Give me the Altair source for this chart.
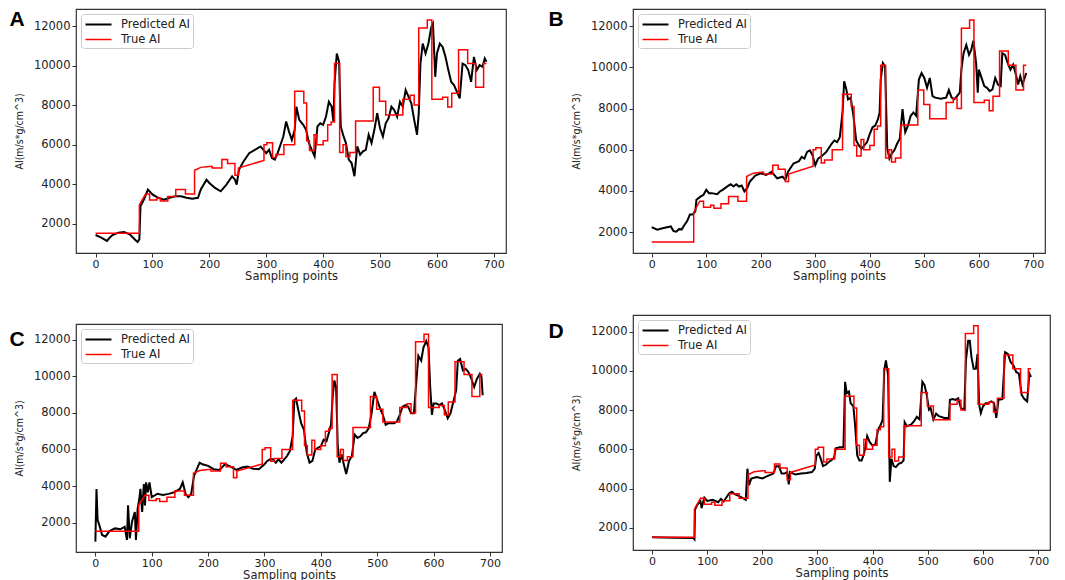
import altair as alt
import pandas as pd

# ---------------- True AI (step curve, same in every panel) ----------------
true_x = [0, 77, 77, 82, 88, 95, 95, 108, 108, 114, 114, 127, 127, 141, 141, 158, 158, 174,
          174, 185, 200, 205, 205, 222, 222, 232, 232, 245, 245, 251, 251, 296, 296, 301, 301,
          311, 311, 317, 317, 331, 331, 350, 350, 366, 366, 371, 371, 376, 376, 384, 384, 389,
          389, 400, 400, 408, 408, 414, 414, 420, 420, 429, 429, 435, 435, 440, 440, 447, 447,
          457, 457, 488, 488, 499, 499, 510, 510, 540, 540, 553, 553, 560, 560, 568, 568, 583,
          583, 591, 591, 610, 610, 619, 619, 626, 626, 638, 638, 654, 654, 668, 668, 682, 682, 687]
true_y = [1520, 1520, 2950, 3200, 3500, 3500, 3200, 3200, 3300, 3300, 3150, 3150, 3380, 3380,
          3730, 3730, 3500, 3500, 4700, 4850, 4900, 4900, 4820, 4820, 5250, 5250, 5050, 5050,
          4450, 4450, 4820, 5200, 6000, 6000, 6100, 6100, 5350, 5350, 5500, 5500, 6000, 6000,
          8700, 8700, 8100, 8100, 6200, 6200, 5700, 5700, 6500, 6500, 6000, 6000, 6200, 6200,
          7000, 7000, 7150, 7150, 10100, 10100, 5600, 5600, 6000, 6000, 5400, 5400, 5600, 5600,
          7200, 7200, 8900, 8900, 8200, 8200, 7500, 7500, 8300, 8300, 8500, 8500, 8000, 8000,
          11900, 11900, 12300, 12300, 8300, 8300, 8400, 8400, 7900, 7900, 8600, 8600, 10800,
          10800, 10100, 10100, 8900, 8900, 10100, 10100]

# ---------------- Predicted AI, panel A ----------------
pred_a_x = [0, 10, 20, 25, 30, 40, 50, 60, 70, 74, 77, 79, 85, 92, 100, 110, 120, 130, 140, 150,
            160, 170, 180, 185, 195, 200, 210, 220, 230, 240, 245, 248, 252, 260, 270, 280, 290,
            300, 305, 310, 315, 320, 330, 335, 340, 345, 350, 353, 358, 365, 370, 375, 380, 385,
            390, 395, 400, 405, 410, 415, 418, 420, 424, 428, 431, 435, 440, 445, 450, 455, 460,
            465, 470, 475, 480, 485, 490, 495, 500, 505, 510, 515, 520, 525, 530, 535, 540, 545,
            550, 555, 560, 565, 568, 571, 575, 580, 585, 590, 593, 597, 600, 605, 610, 615, 620,
            625, 630, 635, 640, 645, 650, 655, 660, 665, 670, 675, 680, 684, 687]
pred_a_y = [1430, 1300, 1130, 1300, 1430, 1550, 1580, 1460, 1180, 1080, 1210, 2890, 3220, 3730,
            3480, 3310, 3220, 3310, 3390, 3390, 3310, 3260, 3310, 3730, 4230, 4060, 3810, 3640,
            3980, 4400, 4230, 3980, 4730, 5150, 5570, 5740, 5910, 5570, 5740, 5320, 5240, 5570,
            6410, 7170, 6660, 6240, 6750, 7920, 7250, 7000, 6750, 6080, 5740, 5410, 6920, 7080,
            7000, 7420, 8170, 7920, 7170, 9100, 10610, 10190, 6920, 6500, 6080, 5240, 5070, 4400,
            5910, 5490, 5660, 5740, 6500, 6080, 6750, 7590, 6830, 6410, 7080, 7340, 7920, 7750,
            7420, 8170, 7920, 8760, 8430, 8090, 7250, 6500, 7590, 10100, 11110, 10610, 11110,
            11950, 12120, 9430, 10610, 11110, 10940, 10440, 9770, 9180, 9010, 8680, 8340, 10100,
            10020, 9770, 9180, 10440, 9770, 10020, 9940, 10360, 10190]

# ---------------- Predicted AI, panel B ----------------
pred_b_x = [0, 10, 20, 30, 35, 40, 45, 50, 55, 60, 65, 70, 75, 80, 82, 90, 95, 100, 105, 110,
            120, 125, 130, 140, 145, 150, 155, 160, 165, 170, 175, 180, 190, 200, 210, 220, 230,
            240, 245, 250, 260, 270, 275, 280, 285, 290, 295, 300, 305, 310, 320, 330, 335, 340,
            345, 350, 353, 357, 360, 365, 370, 375, 380, 385, 390, 395, 400, 405, 410, 415, 418,
            420, 424, 428, 432, 436, 440, 445, 450, 455, 460, 463, 465, 470, 475, 480, 485, 490,
            495, 500, 505, 510, 515, 520, 530, 540, 545, 550, 555, 560, 565, 568, 572, 577, 582,
            586, 590, 595, 598, 600, 605, 610, 615, 620, 625, 630, 635, 640, 643, 648, 653, 658,
            663, 668, 672, 676, 680, 684, 687]
pred_b_y = [2240, 2110, 2180, 2240, 2270, 2050, 2020, 2140, 2130, 2340, 2530, 2850, 2850, 3010,
            3570, 3730, 3810, 4050, 3890, 3890, 3840, 3970, 4050, 4240, 4320, 4210, 4320, 4210,
            4260, 3970, 4130, 4450, 4740, 4850, 4770, 4930, 4610, 4690, 4530, 4930, 5330, 5440,
            5650, 5570, 5890, 5970, 5730, 5250, 5570, 5650, 5890, 6290, 6450, 6370, 6610, 7810,
            9330, 8930, 8450, 8530, 7650, 6450, 6210, 6050, 6210, 6370, 6770, 7090, 7170, 7490,
            7810, 9410, 10210, 10050, 6050, 5570, 5810, 5970, 6290, 6530, 7970, 7250, 6850, 7170,
            7650, 7810, 7650, 9410, 9730, 9490, 9010, 9490, 8610, 8530, 8480, 8530, 8900, 8530,
            8450, 8610, 8770, 9890, 10690, 11090, 10610, 10850, 11300, 10210, 8770, 9890, 9490,
            9090, 9010, 8850, 8930, 9490, 9170, 9090, 10690, 10610, 10210, 9890, 10130, 9650,
            9170, 9570, 9170, 9490, 9730]

# ---------------- Predicted AI, panel C ----------------
pred_c_x = [0, 2, 4, 7, 12, 18, 25, 35, 45, 52, 56, 58, 61, 65, 70, 72, 75, 78, 80, 83, 86, 88,
            90, 93, 96, 100, 105, 110, 120, 130, 140, 150, 155, 160, 165, 170, 175, 180, 185, 190,
            200, 210, 220, 230, 240, 250, 260, 270, 280, 290, 300, 305, 310, 315, 320, 325, 330,
            335, 340, 345, 350, 353, 356, 360, 365, 370, 375, 380, 385, 390, 395, 400, 405, 410,
            415, 418, 421, 424, 427, 430, 433, 437, 440, 445, 450, 455, 460, 465, 470, 475, 480,
            485, 490, 495, 500, 505, 510, 515, 520, 530, 535, 540, 545, 550, 555, 560, 565, 570,
            573, 578, 582, 587, 591, 594, 597, 600, 605, 610, 615, 620, 625, 630, 635, 640, 643,
            647, 652, 657, 662, 667, 672, 677, 682, 685, 687]
pred_c_y = [955, 3840, 2130, 1860, 1320, 1230, 1530, 1680, 1640, 1770, 1050, 2940, 1140, 2040,
            2580, 1050, 2760, 3300, 3840, 2580, 4110, 2940, 4200, 3660, 4200, 3390, 3480, 3570,
            3510, 3570, 3660, 3840, 4200, 3570, 3390, 3570, 4560, 4920, 5280, 5190, 5100, 4920,
            4880, 5190, 5060, 4880, 5010, 5060, 4950, 4920, 5190, 5370, 5460, 5460, 5280, 5460,
            5280, 5460, 5640, 5910, 6720, 8700, 8790, 8160, 7440, 7080, 5820, 5280, 5370, 6000,
            6090, 6180, 6540, 6450, 6990, 7350, 8880, 9780, 9420, 6180, 5280, 5730, 5280, 4650,
            5370, 5640, 6810, 6630, 6720, 6900, 6940, 7170, 7980, 9150, 8700, 8250, 7890, 7350,
            7440, 7440, 7530, 7890, 8340, 8430, 8340, 7980, 7980, 9960, 11130, 10860, 11580, 11940,
            11580, 9420, 7890, 8520, 8520, 8430, 8520, 8160, 7710, 7980, 8610, 9240, 10860, 10950,
            10320, 10410, 10230, 9870, 9420, 9870, 10140, 9960, 8970]

# ---------------- Predicted AI, panel D ----------------
pred_d_x = [0, 40, 75, 77, 78, 82, 88, 90, 95, 100, 110, 120, 125, 130, 140, 145, 150, 160, 170,
            173, 176, 180, 190, 200, 210, 220, 225, 230, 235, 240, 245, 248, 250, 260, 270, 280,
            290, 295, 298, 302, 306, 310, 315, 320, 330, 333, 340, 347, 350, 353, 357, 360, 365,
            368, 372, 376, 380, 385, 390, 395, 400, 405, 410, 415, 418, 421, 424, 428, 431, 434,
            438, 442, 447, 452, 456, 458, 462, 470, 475, 480, 485, 490, 494, 498, 502, 505, 510,
            515, 520, 530, 538, 540, 545, 550, 555, 560, 566, 569, 573, 576, 579, 583, 587, 590,
            593, 596, 600, 605, 610, 615, 620, 624, 628, 635, 640, 645, 650, 655, 660, 665, 670,
            675, 680, 684, 687]
pred_d_y = [1510, 1490, 1480, 1410, 2920, 3170, 3340, 3000, 3540, 3370, 3420, 3300, 3470, 3340,
            3760, 3840, 3710, 3590, 3420, 5010, 4170, 4510, 4590, 4510, 4640, 4760, 5140, 5140,
            4760, 4760, 4840, 4210, 4840, 4710, 4760, 4790, 4840, 5010, 5680, 5810, 5510, 5140,
            5210, 5340, 5550, 6050, 6100, 6100, 9440, 8860, 8940, 8350, 8190, 7270, 5680, 5430,
            5430, 5850, 6680, 6350, 6180, 6260, 7020, 7270, 7520, 10030, 10530, 9780, 4340, 5510,
            5140, 5090, 5260, 5310, 5430, 7380, 7180, 7270, 7430, 7650, 7520, 9440, 9270, 8770,
            8020, 8100, 7520, 7820, 7690, 7600, 7600, 8520, 8560, 8520, 8600, 8100, 8020, 10530,
            11530, 11530, 10700, 10110, 10110, 10860, 8270, 7850, 8190, 8350, 8350, 8440, 8350,
            7600, 8520, 8560, 10950, 10860, 10450, 10280, 9940, 9860, 8770, 8560, 8440, 9860, 9690]

SERIES = ["Predicted AI", "True AI"]
COLORS = ["black", "red"]
WIDTHS = [2.0, 1.5]
X_TICKS = [0, 100, 200, 300, 400, 500, 600, 700]
Y_TICKS = [2000, 4000, 6000, 8000, 10000, 12000]


def panel(letter, px, py, w, h, ldx, ldy, lbase):
    rows = []
    for i, (x, y) in enumerate(zip(px, py)):
        rows.append({"x": x, "AI": y, "series": SERIES[0], "idx": i})
    for i, (x, y) in enumerate(zip(true_x, true_y)):
        rows.append({"x": x, "AI": y, "series": SERIES[1], "idx": i})
    df = pd.DataFrame(rows)
    ys = list(py) + list(true_y)
    xs = list(px) + list(true_x)
    ylo, yhi = min(ys), max(ys)
    xlo, xhi = min(xs), max(xs)
    ym = 0.05 * (yhi - ylo)
    xm = 0.05 * (xhi - xlo)
    lines = alt.Chart(df).mark_line(clip=True).encode(
        x=alt.X("x:Q", scale=alt.Scale(domain=[xlo - xm, xhi + xm], nice=False, zero=False),
                axis=alt.Axis(values=X_TICKS, title="Sampling points", format="d",
                              labelFontSize=11, titleFontSize=11.5,
                              labelPadding=1, titlePadding=1)),
        y=alt.Y("AI:Q", scale=alt.Scale(domain=[ylo - ym, yhi + ym], nice=False, zero=False),
                axis=alt.Axis(values=Y_TICKS, title="AI(m/s*g/cm^3)", format="d",
                              labelFontSize=11.5,
                              titleFont="DejaVu Sans Condensed", titleFontSize=10.5,
                              titlePadding=9, labelPadding=2)),
        color=alt.Color("series:N", scale=alt.Scale(domain=SERIES, range=COLORS),
                        legend=alt.Legend(title=None, orient="top-left", offset=5,
                                          padding=3, rowPadding=2,
                                          symbolType="M-2,0L2,0", symbolSize=169,
                                          symbolOffset=7, symbolStrokeWidth=1.6,
                                          labelFontSize=11.5, labelFont="DejaVu Sans",
                                          labelColor="#222", labelOffset=15,
                                          strokeColor="#cccccc", fillColor="white",
                                          cornerRadius=3)),
        strokeWidth=alt.StrokeWidth("series:N", scale=alt.Scale(domain=SERIES, range=WIDTHS),
                                    legend=None),
        order=alt.Order("idx:Q"),
    )
    txt = alt.Chart(pd.DataFrame({"t": [letter]})).mark_text(
        font="Liberation Sans", fontSize=21, fontWeight="bold", color="black",
        align="center", baseline=lbase
    ).encode(text="t:N", x=alt.value(ldx), y=alt.value(ldy))
    return alt.layer(lines, txt).properties(width=w, height=h)


pa = panel("A", pred_a_x, pred_a_y, 430, 244, -59, 0, "top")
pb = panel("B", pred_b_x, pred_b_y, 412, 244, -77, 0, "top")
pc = panel("C", pred_c_x, pred_c_y, 426, 228, -59, 16, "middle")
pd_ = panel("D", pred_d_x, pred_d_y, 417, 235, -77, 17, "middle")

col1 = alt.vconcat(pa, pc, spacing=40).resolve_scale(color="independent",
                                                       strokeWidth="independent")
col2 = alt.vconcat(pb, pd_, spacing=31).resolve_scale(color="independent",
                                                       strokeWidth="independent")

chart = alt.hconcat(col1, col2, spacing=40).resolve_scale(
    color="independent", strokeWidth="independent"
).properties(
    padding=0
).configure_view(
    stroke="#333333", strokeWidth=1.2
).configure_axis(
    labelFont="DejaVu Sans", labelColor="#222222",
    titleFont="DejaVu Sans", titleFontWeight="normal", titleColor="#222222",
    tickColor="#333333", tickSize=4, domain=False, grid=False
)

chart.save("out.html", embed_options={"renderer": "svg", "actions": False})
